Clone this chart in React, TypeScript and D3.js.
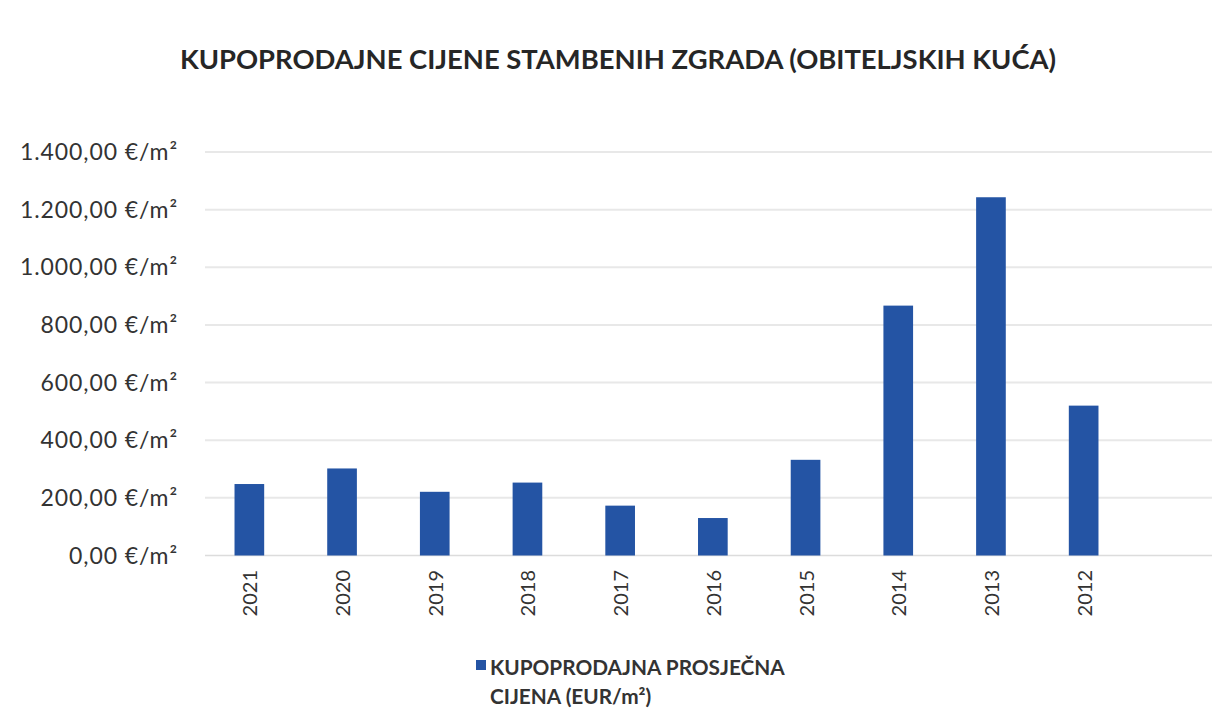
import React from "react";
import * as d3 from "d3";

const years = ["2021", "2020", "2019", "2018", "2017", "2016", "2015", "2014", "2013", "2012"];
const prices = [248, 302, 221, 253, 173, 130, 332, 867, 1243, 520];
const yTicks = [0, 200, 400, 600, 800, 1000, 1200, 1400];
const title = "KUPOPRODAJNE CIJENE STAMBENIH ZGRADA (OBITELJSKIH KUĆA)";
const legendLines = ["KUPOPRODAJNA PROSJEČNA", "CIJENA (EUR/m²)"];

const W = 1214;
const H = 722;
const font = "Lato, 'Open Sans', sans-serif";
const barColor = "#2454A4";

const fmt = (v: number) => {
  const s = d3.format(",.2f")(v); // 1,400.00
  return s.replace(/,/g, "#").replace(/\./g, ",").replace(/#/g, ".") + " €/m²";
};

export default function App() {
  const x = d3.scaleBand<string>().domain(years).range([203, 1130]).paddingInner(0.68).paddingOuter(0.34);
  const y = d3.scaleLinear().domain([0, 1400]).range([555.5, 152]);
  const gridX0 = 205;
  const gridX1 = 1212;

  return (
    <svg width={W} height={H} style={{ position: "absolute", left: 0, top: 0, background: "#fff" }}>
      <rect x={0} y={0} width={W} height={H} fill="#fff" />
      <text x={618} y={69} textAnchor="middle" fontFamily={font} fontWeight={700} fontSize={27.4} fill="#262626">
        {title}
      </text>
      {yTicks.map((t) => (
        <g key={t}>
          <line x1={gridX0} x2={gridX1} y1={y(t)} y2={y(t)} stroke={t === 0 ? "#dcdcdc" : "#e8e8e8"} strokeWidth={t === 0 ? 1.5 : 2} />
          <text x={178} y={y(t)} dy="0.35em" textAnchor="end" fontFamily={font} fontSize={23} letterSpacing={0.9} fill="#333">
            {fmt(t)}
          </text>
        </g>
      ))}
      {years.map((yr, i) => (
        <rect key={yr} x={x(yr)} y={y(prices[i])} width={x.bandwidth()} height={y(0) - y(prices[i])} fill={barColor} />
      ))}
      {years.map((yr) => {
        const cx = (x(yr) as number) + x.bandwidth() / 2;
        return (
          <text
            key={yr}
            transform={`translate(${cx + 1},${570}) rotate(-90)`}
            textAnchor="end"
            dy="0.35em"
            fontFamily={font}
            fontSize={20}
            fill="#333"
          >
            {yr}
          </text>
        );
      })}
      <rect x={476} y={660} width={10} height={10} fill={barColor} />
      <text x={490} y={668} dy="0.35em" fontFamily={font} fontWeight={700} fontSize={20.8} fill="#333">
        {legendLines[0]}
      </text>
      <text x={490} y={697} dy="0.35em" fontFamily={font} fontWeight={700} fontSize={20.8} fill="#333">
        {legendLines[1]}
      </text>
    </svg>
  );
}
